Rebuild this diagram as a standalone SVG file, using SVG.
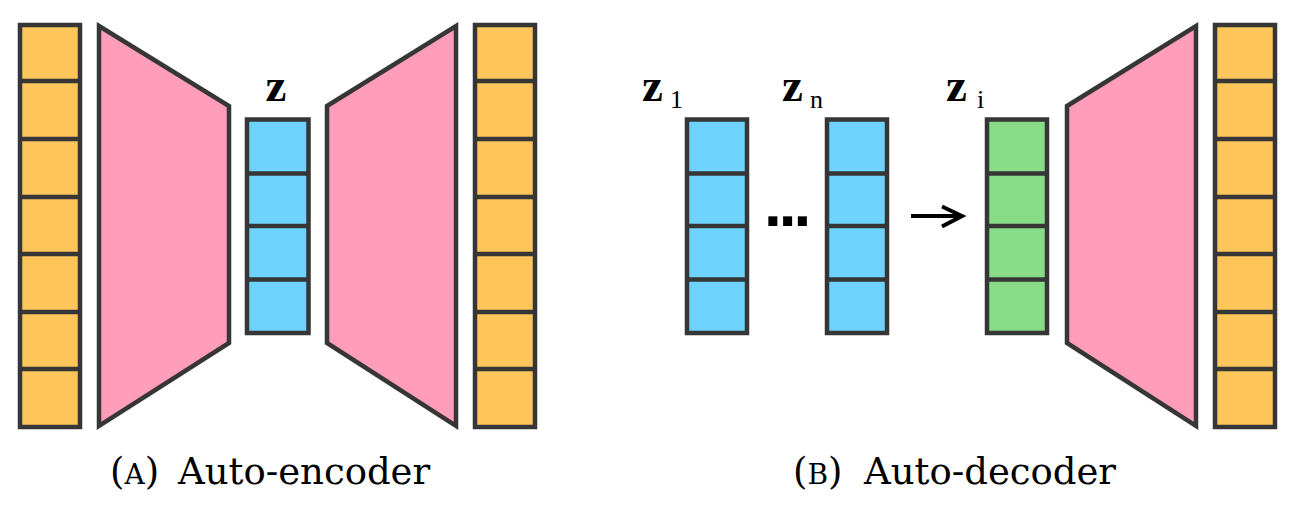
<svg xmlns="http://www.w3.org/2000/svg" width="1305" height="511" viewBox="0 0 1305 511">
<defs>
<style>
.s{stroke:#363636;stroke-width:4.5;stroke-linejoin:miter}
.y{fill:#FEC55A}
.p{fill:#FF9DBA}
.b{fill:#6ED4FE}
.g{fill:#88DC88}
.d{fill:none;stroke:#363636;stroke-width:4.5}
.zl{font-family:"Liberation Serif",serif;font-weight:bold;font-size:47px;fill:#000}
.sub{font-family:"Liberation Serif",serif;font-size:26px;fill:#000}
.cap{font-family:"DejaVu Serif",serif;font-size:37px;fill:#000}
.sc{font-size:28px}
.ar{fill:none;stroke:#000;stroke-width:4}
</style>
</defs>
<rect width="1305" height="511" fill="#fff"/>

<g id="inputA">
<rect class="s y" x="20" y="25" width="60" height="402"/>
<path class="d" d="M20 81H80M20 139H80M20 197H80M20 254H80M20 312H80M20 369H80"/>
</g>
<g id="encoderA">
<polygon class="s p" points="99,26 229,106 229,343 99,426"/>
</g>
<g id="latentA">
<rect class="s b" x="247" y="119.5" width="61.5" height="213.5"/>
<path class="d" d="M247 173.5H308.5M247 226H308.5M247 279.5H308.5"/>
<text class="zl" x="276" y="101" text-anchor="middle">z</text>
</g>
<g id="decoderA">
<polygon class="s p" points="327,106 456,26 456,426 327,343"/>
</g>
<g id="outputA">
<rect class="s y" x="475" y="25" width="60" height="402"/>
<path class="d" d="M475 81H535M475 139H535M475 197H535M475 254H535M475 312H535M475 369H535"/>
</g>

<g id="z1">
<rect class="s b" x="687" y="119.5" width="60" height="213.5"/>
<path class="d" d="M687 173.5H747M687 226H747M687 279.5H747"/>
<text x="642" y="101"><tspan class="zl">z</tspan><tspan class="sub" dx="7" dy="7">1</tspan></text>
</g>
<text id="dots" x="764" y="226" font-family="Liberation Sans,sans-serif" font-weight="bold" font-size="64" letter-spacing="-3" fill="#000">...</text>
<g id="zn">
<rect class="s b" x="827" y="119.5" width="60" height="213.5"/>
<path class="d" d="M827 173.5H887M827 226H887M827 279.5H887"/>
<text x="782" y="101"><tspan class="zl">z</tspan><tspan class="sub" dx="7" dy="7">n</tspan></text>
</g>
<g id="zi">
<rect class="s g" x="987" y="119.5" width="60" height="213.5"/>
<path class="d" d="M987 173.5H1047M987 226H1047M987 279.5H1047"/>
<text x="946" y="101"><tspan class="zl">z</tspan><tspan class="sub" dx="10" dy="7">i</tspan></text>
</g>
<g id="decoderB">
<polygon class="s p" points="1067,106 1196,26 1196,426 1067,343"/>
</g>
<g id="outputB">
<rect class="s y" x="1215" y="25" width="60" height="402"/>
<path class="d" d="M1215 81H1275M1215 139H1275M1215 197H1275M1215 254H1275M1215 312H1275M1215 369H1275"/>
</g>

<g id="connectors">
<path class="ar" d="M911 216H961"/>
<path class="ar" d="M942 206.5L962 216L942 226.5"/>
</g>

<text class="cap" x="110" y="484">(<tspan class="sc">A</tspan>)<tspan x="178">Auto-encoder</tspan></text>
<text class="cap" x="793" y="484">(<tspan class="sc">B</tspan>)<tspan x="864">Auto-decoder</tspan></text>
</svg>
